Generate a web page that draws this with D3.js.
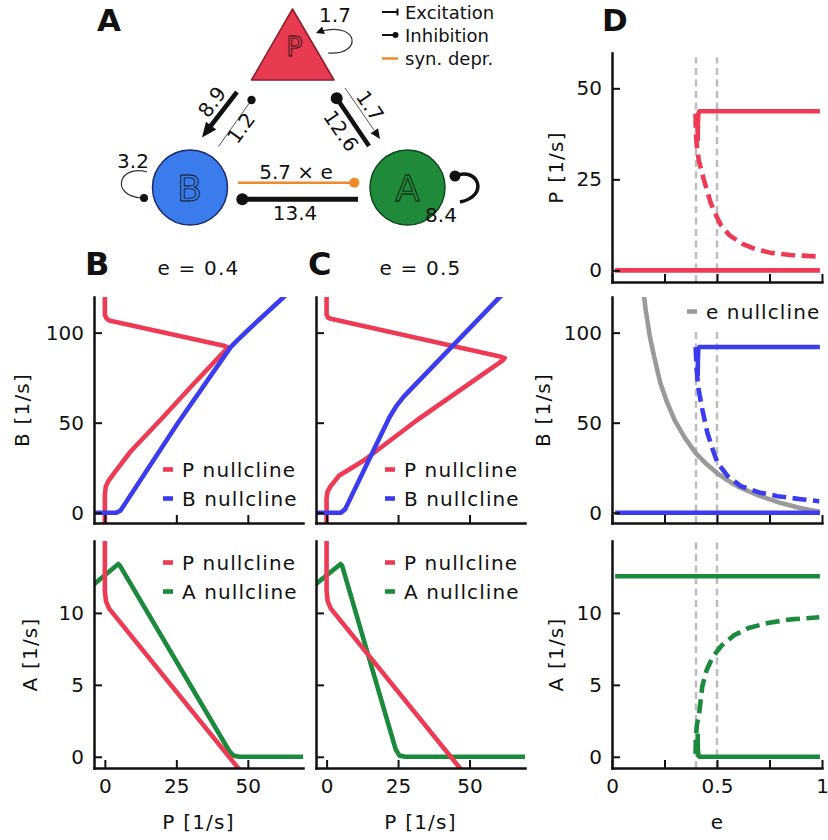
<!DOCTYPE html>
<html><head><meta charset="utf-8">
<script src="https://cdn.jsdelivr.net/npm/d3@7"></script>
<style>body{margin:0;background:#fff} text{font-family:"DejaVu Sans",sans-serif}</style>
</head><body><svg id="c" width="828" height="840"></svg>
<script>
// ---------------- DATA ----------------
const xTicksP = [0, 25, 50];
const yTicksB = [0, 50, 100];
const yTicksA = [0, 5, 10];
const yTicksP = [0, 25, 50];
const xTicksE = [0, 0.25, 0.5, 0.75, 1];
const xTickLabelsE = ["0", "", "0.5", "", "1"];
const eMarks = [0.4, 0.5];
const eTitles = ["e = 0.4", "e = 0.5"];

// panel B (e = 0.4), P-B plane
const pNullPB_04 = [[0,122],[0,110],[0.5,108],[1.5,106.8],[42,92.6],[43,91.8],[42.2,90.4],[31,71.5],[20,52.5],[9,34],[3.5,22.5],[1.2,17.5],[0.3,14.5],[0,10],[0,-8]];
const bNull_04 = [[-6,0],[4,0],[5.5,1.3],[25.6,50],[44,92],[46.5,96],[50.7,102.4],[62,119],[64,122]];
// panel C (e = 0.5), P-B plane
const pNullPB_05 = [[0,122],[0,110],[0.5,108.4],[1.5,107.7],[61,86.6],[62.3,85.8],[61.5,84.5],[31.7,51.5],[13,29],[4.3,20.5],[1.3,14.5],[0.3,11.5],[0,8],[0,-8]];
const bNull_05 = [[-6,0],[5,0],[6.5,2],[22,53],[24.5,59.5],[27,64.5],[30,69.5],[60.7,120],[62,122]];
// P-A plane
const pNullPA = [[0,16],[0,11.5],[0.4,10.8],[1.5,10.3],[47.5,-1]];
const aNull_04 = [[-5,11.8],[4.7,13.4],[5.2,13.3],[43.5,0.4],[45,0.08],[47,0],[72,0]];
const aNull_05 = [[-5,11.8],[4.9,13.4],[5.4,13.3],[24.2,0.5],[25.5,0.08],[27.5,0],[72,0]];

// panel D, bifurcation in e
const pLowD = [[0.015,0],[0.99,0]];
const pHighD = [[0.408,35.5],[0.409,40],[0.411,43],[0.416,43.7],[0.99,43.7]];
const pUnstD = [[0.398,43],[0.399,38],[0.404,34],[0.414,30],[0.438,24.8],[0.47,18.5],[0.5,14.6],[0.518,12.5],[0.56,9.6],[0.621,7.3],[0.68,5.9],[0.756,4.8],[0.85,4.2],[0.987,3.8]];
const bLowD = [[0.015,0],[0.99,0]];
const bHighD = [[0.408,76],[0.409,85],[0.411,91],[0.416,92],[0.99,92]];
const bUnstD = [[0.398,92],[0.4,88],[0.403,80],[0.41,70],[0.43,57.4],[0.454,44.4],[0.48,35],[0.502,27.8],[0.55,20.5],[0.613,14.8],[0.7,11.3],[0.788,9.2],[0.9,7.5],[0.987,6.4]];
const eNullD = [[0.151,122],[0.16,113],[0.18,98],[0.2,87],[0.23,72],[0.26,62],[0.3,51],[0.35,41],[0.4,33],[0.45,27],[0.5,22],[0.55,18],[0.6,14.5],[0.7,9.5],[0.8,5.5],[0.9,2.5],[0.99,0.5]];
const aHighD = [[0.015,12.55],[0.99,12.55]];
const aLowD = [[0.408,1.6],[0.409,0.5],[0.412,0.05],[0.42,0],[0.99,0]];
const aUnstD = [[0.398,0.2],[0.399,1.2],[0.404,2.2],[0.414,2.9],[0.43,4.9],[0.45,6.0],[0.478,6.9],[0.52,7.7],[0.581,8.45],[0.65,8.95],[0.741,9.3],[0.85,9.55],[0.987,9.7]];

// diagram weights
const wPself = "1.7", wBself = "3.2", wAself = "8.4";
const wPB = "8.9", wBP = "1.2", wAP = "12.6", wPA = "1.7", wBA = "5.7 × e", wAB = "13.4";
const legendA = ["Excitation", "Inhibition", "syn. depr."];

// ---------------- STYLE ----------------
const RED = "#EF3A54", BLUE = "#3B3BF0", GREEN = "#1B8A3C", GRAY = "#9a9a9a", ORANGE = "#EE8A2A";
const LW = 4.6;
const svg = d3.select("#c");

function axes(xs, ys, xt, xlab, yt, ylab) {
  const g = svg.append("g");
  const ax = d3.axisBottom(xs).tickValues(xt).tickSize(-8).tickSizeOuter(0).tickPadding(11)
    .tickFormat((d,i) => xlab ? xlab[i] : "");
  const gx = g.append("g").attr("transform", `translate(0,${ys.range()[0]})`).call(ax);
  const ay = d3.axisLeft(ys).tickValues(yt).tickSize(-8).tickSizeOuter(0).tickPadding(10)
    .tickFormat((d,i) => ylab ? ylab[i] : "");
  const gy = g.append("g").attr("transform", `translate(${xs.range()[0]},0)`).call(ay);
  [gx, gy].forEach(a => {
    a.attr("font-family", "DejaVu Sans").attr("font-size", 20);
    a.select(".domain").attr("stroke", "#111").attr("stroke-width", 2.5).attr("stroke-linecap","square");
    a.selectAll(".tick line").attr("stroke", "#111").attr("stroke-width", 2);
    a.selectAll(".tick text").attr("fill", "#111");
  });
}
let clipN = 0;
function clip(xs, ys) {
  const id = "cp" + (clipN++);
  const [x0, x1] = xs.range(), [y0, y1] = ys.range();
  svg.append("clipPath").attr("id", id).append("rect")
    .attr("x", x0).attr("y", y1).attr("width", x1 - x0).attr("height", y0 - y1);
  return svg.append("g").attr("clip-path", `url(#${id})`);
}
function curve(g, xs, ys, data, color, dash, lw) {
  const line = d3.line().x(d => xs(d[0])).y(d => ys(d[1]));
  g.append("path").attr("d", line(data)).attr("fill", "none").attr("stroke", color)
    .attr("stroke-width", lw || LW).attr("stroke-linejoin", "round")
    .attr("stroke-dasharray", dash || null);
}
function legend(x, y, items) {
  items.forEach((it, i) => {
    const yy = y + i * 29;
    svg.append("line").attr("x1", x).attr("x2", x + 10).attr("y1", yy).attr("y2", yy)
      .attr("stroke", it[1]).attr("stroke-width", LW);
    svg.append("text").attr("x", x + 19).attr("y", yy + 7).attr("font-size", 20)
      .attr("letter-spacing", 1.1).attr("fill", "#111").text(it[0]);
  });
}
function txt(x, y, s, opt) {
  const t = svg.append("text").attr("x", x).attr("y", y).text(s).attr("fill", "#111");
  Object.entries(opt || {}).forEach(([k, v]) => t.attr(k, v));
  return t;
}

// ---------------- PANELS B & C ----------------
const yB = d3.scaleLinear().domain([-5.7, 119.8]).range([523, 297]);
const yA = d3.scaleLinear().domain([-0.78, 15]).range([768, 541]);
const xB = d3.scaleLinear().domain([-3.8, 69.3]).range([94, 303]);
const xC = d3.scaleLinear().domain([-3.7, 69.4]).range([316, 525]);

const cols = [
  {xs: xB, pB: pNullPB_04, bN: bNull_04, aN: aNull_04, lab: true, legX: 163},
  {xs: xC, pB: pNullPB_05, bN: bNull_05, aN: aNull_05, lab: false, legX: 385}
];
cols.forEach((c, i) => {
  let g = clip(c.xs, yB);
  curve(g, c.xs, yB, c.pB, RED);
  curve(g, c.xs, yB, c.bN, BLUE);
  axes(c.xs, yB, xTicksP, null, yTicksB, c.lab ? yTicksB.map(String) : null);
  legend(c.legX, 469.5, [["P nullcline", RED], ["B nullcline", BLUE]]);
  g = clip(c.xs, yA);
  curve(g, c.xs, yA, c.aN, GREEN);
  curve(g, c.xs, yA, pNullPA, RED);
  axes(c.xs, yA, xTicksP, xTicksP.map(String), yTicksA, c.lab ? yTicksA.map(String) : null);
  legend(c.legX, 562.5, [["P nullcline", RED], ["A nullcline", GREEN]]);
  const cx = (c.xs.range()[0] + c.xs.range()[1]) / 2;
  txt(cx, 275, eTitles[i], {"font-size": 20, "text-anchor": "middle", "letter-spacing": 1.2});
  txt(cx, 829, "P [1/s]", {"font-size": 20, "text-anchor": "middle", "letter-spacing": 1.2});
});
txt(29, 410, "B [1/s]", {"font-size": 20, "text-anchor": "middle", "letter-spacing": 1.2, transform: "rotate(-90,29,410)"});
txt(37, 654.5, "A [1/s]", {"font-size": 20, "text-anchor": "middle", "letter-spacing": 1.2, transform: "rotate(-90,37,654.5)"});
txt(85, 275, "B", {"font-size": 32, "font-weight": "bold"});
txt(308, 275, "C", {"font-size": 32, "font-weight": "bold"});

// ---------------- PANEL D ----------------
const xD = d3.scaleLinear().domain([0, 1]).range([612, 822]);
const yDP = d3.scaleLinear().domain([-3.2, 59.7]).range([282, 53]);
const dRows = [
  {ys: yDP, yt: yTicksP, stable: [pLowD, pHighD], unst: pUnstD, col: RED, vl: [-3.2, 58.5], lab: "P [1/s]", lx: 563},
  {ys: yB, yt: yTicksB, stable: [bLowD, bHighD], unst: bUnstD, col: BLUE, vl: [-5.7, 100.5], lab: "B [1/s]", lx: 550},
  {ys: yA, yt: yTicksA, stable: [aHighD, aLowD], unst: aUnstD, col: GREEN, vl: [-0.78, 15], lab: "A [1/s]", lx: 563}
];
dRows.forEach((r, i) => {
  const g = clip(xD, r.ys);
  eMarks.forEach(e => {
    g.append("line").attr("x1", xD(e)).attr("x2", xD(e)).attr("y1", r.ys(r.vl[0])).attr("y2", r.ys(r.vl[1]))
      .attr("stroke", "#bdbdbd").attr("stroke-width", 2.5).attr("stroke-dasharray", "7,4.5");
  });
  if (i === 1) curve(g, xD, r.ys, eNullD, GRAY);
  r.stable.forEach(s => curve(g, xD, r.ys, s, r.col));
  curve(g, xD, r.ys, r.unst, r.col, "14,6.5");
  axes(xD, r.ys, xTicksE, i === 2 ? xTickLabelsE : null, r.yt, r.yt.map(String));
  const cy = (r.ys.range()[0] + r.ys.range()[1]) / 2;
  txt(r.lx, cy, r.lab, {"font-size": 20, "text-anchor": "middle", "letter-spacing": 1.2, transform: `rotate(-90,${r.lx},${cy})`});
});
legend(687, 311.5, [["e nullcline", GRAY]]);
txt(717, 829, "e", {"font-size": 20, "text-anchor": "middle"});
txt(602, 31, "D", {"font-size": 31, "font-weight": "bold"});

// ---------------- PANEL A (diagram) ----------------
txt(97, 31, "A", {"font-size": 31, "font-weight": "bold"});
const dg = svg.append("g");
function head(tip, from, len, hw, fill) {
  const dx = tip[0] - from[0], dy = tip[1] - from[1], L = Math.hypot(dx, dy);
  const ux = dx / L, uy = dy / L, bx = tip[0] - ux * len, by = tip[1] - uy * len;
  dg.append("path").attr("d", `M${tip[0]},${tip[1]}L${bx - uy * hw},${by + ux * hw}L${bx + uy * hw},${by - ux * hw}Z`).attr("fill", fill || "#111");
}
function seg(a, b, w, col) {
  dg.append("line").attr("x1", a[0]).attr("y1", a[1]).attr("x2", b[0]).attr("y2", b[1])
    .attr("stroke", col).attr("stroke-width", w);
}
function dot(p, r, col) { dg.append("circle").attr("cx", p[0]).attr("cy", p[1]).attr("r", r).attr("fill", col); }
function dlabel(x, y, s, rot, size) {
  dg.append("text").attr("x", x).attr("y", y).attr("font-size", size || 20).attr("text-anchor", "middle")
    .attr("dominant-baseline", "central").attr("fill", "#111")
    .attr("transform", rot ? `rotate(${rot},${x},${y})` : null).text(s);
}
// nodes
dg.append("path").attr("d", "M292.5,9L334,80L251.5,80Z").attr("fill", "#E83A50").attr("stroke", "#8E1B2B").attr("stroke-width", 1.5).attr("stroke-linejoin", "round");
dg.append("circle").attr("cx", 190).attr("cy", 187.5).attr("r", 37.5).attr("fill", "#3A7CEB").attr("stroke", "#1B2A6B").attr("stroke-width", 1.5);
dg.append("circle").attr("cx", 407.5).attr("cy", 187.5).attr("r", 37.5).attr("fill", "#1E8A3A").attr("stroke", "#0D4A1D").attr("stroke-width", 1.5);
[[294.5, 56, "P", 27, "#E83A50"], [189.5, 201, "B", 36, "#3A7CEB"], [407.5, 201, "A", 36, "#1E8A3A"]].forEach(n => {
  dg.append("text").attr("x", n[0]).attr("y", n[1]).attr("font-size", n[3]).attr("text-anchor", "middle")
    .attr("fill", n[4]).attr("stroke", "#111").attr("stroke-width", 0.8).text(n[2]);
});
// P self loop
dg.append("path").attr("d", "M328,53 C362,56 360,22 322,31").attr("fill", "none").attr("stroke", "#333").attr("stroke-width", 1.2);
head([316, 33], [324, 30], 8, 4);
dlabel(335, 15, wPself);
// B self loop
dg.append("path").attr("d", "M147,172 C118,164 110,196 142,198").attr("fill", "none").attr("stroke", "#333").attr("stroke-width", 1.2);
dot([144, 198], 4, "#111");
dlabel(133, 161, wBself);
// A self loop
dg.append("path").attr("d", "M455,176 C478,166 490,196 460,202").attr("fill", "none").attr("stroke", "#111").attr("stroke-width", 3.5);
dot([455, 176], 5.5, "#111");
dlabel(441, 215, wAself);
// P <-> B
seg([237, 92], [209.5, 127.5], 4.5, "#111");
head([202, 137.5], [237, 92], 15, 6.5);
seg([251.5, 100], [218.5, 146.5], 1, "#555");
dot([251.5, 100], 4.2, "#111");
dlabel(212, 102, wPB, -54);
dlabel(241, 128, wBP, -54);
// P <-> A
seg([336.7, 98.3], [369, 146], 4.5, "#111");
dot([336.7, 98.3], 6, "#111");
seg([345, 88], [374, 130], 1, "#555");
head([380, 139], [345, 88], 10, 4.5);
dlabel(341, 131, wAP, 55.5);
dlabel(370, 106, wPA, 55.5);
// B <-> A
seg([238, 182.7], [354, 182.7], 2.5, ORANGE);
dot([354.3, 182.7], 5, ORANGE);
seg([242, 199.3], [358, 199.3], 5, "#111");
dot([242.3, 199.3], 6, "#111");
dlabel(296, 172, wBA);
dlabel(295, 213, wAB);
// legend for diagram
const ly = [12, 35, 58.5];
seg([382, ly[0]], [397, ly[0]], 2, "#111");
seg([397.5, ly[0] - 3.5], [397.5, ly[0] + 3.5], 2, "#111");
seg([382, ly[1]], [395, ly[1]], 2, "#111");
dot([395.5, ly[1]], 3, "#111");
seg([382, ly[2]], [398, ly[2]], 2.5, ORANGE);
legendA.forEach((s, i) => {
  dg.append("text").attr("x", 405).attr("y", ly[i]).attr("dominant-baseline", "central")
    .attr("font-size", 18).attr("fill", "#111").text(s);
});
</script></body></html>
